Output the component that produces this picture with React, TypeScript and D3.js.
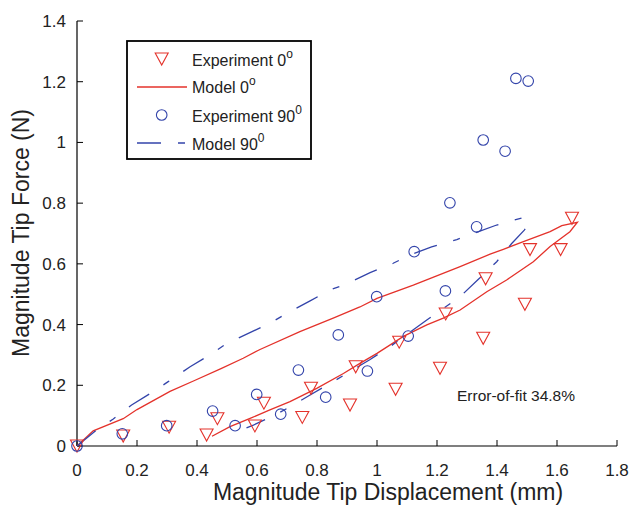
import React from "react";
import * as d3 from "d3";

const exp0: [number, number][] = [
  [0, 0], [0.154, 0.033], [0.307, 0.062], [0.432, 0.036], [0.468, 0.09], [0.593, 0.066],
  [0.623, 0.141], [0.751, 0.094], [0.78, 0.19], [0.91, 0.135], [0.929, 0.261], [1.062, 0.187],
  [1.074, 0.342], [1.21, 0.256], [1.229, 0.435], [1.354, 0.355], [1.362, 0.551], [1.493, 0.467],
  [1.51, 0.647], [1.612, 0.647], [1.65, 0.75],
];

const exp90: [number, number][] = [
  [0, 0], [0.151, 0.04], [0.299, 0.067], [0.452, 0.115], [0.527, 0.067], [0.599, 0.17],
  [0.679, 0.105], [0.738, 0.25], [0.829, 0.161], [0.871, 0.366], [0.968, 0.247], [0.999, 0.492],
  [1.104, 0.362], [1.124, 0.64], [1.228, 0.511], [1.243, 0.801], [1.332, 0.722], [1.354, 1.008],
  [1.427, 0.971], [1.463, 1.211], [1.504, 1.202],
];

const model0: [number, number][] = [
  [0, 0], [0.054, 0.05], [0.154, 0.09], [0.2, 0.12], [0.31, 0.18], [0.39, 0.215], [0.48, 0.255],
  [0.554, 0.289], [0.61, 0.318], [0.743, 0.377], [0.854, 0.421], [0.943, 0.458], [1.0, 0.486],
  [1.121, 0.53], [1.277, 0.591], [1.377, 0.632], [1.421, 0.648], [1.488, 0.673], [1.577, 0.706],
  [1.616, 0.726], [1.668, 0.737], [1.643, 0.706], [1.577, 0.657], [1.521, 0.607], [1.432, 0.547],
  [1.366, 0.508], [1.277, 0.448], [1.221, 0.421], [1.166, 0.399], [1.088, 0.361], [1.0, 0.305],
  [0.943, 0.272], [0.888, 0.239], [0.799, 0.19], [0.71, 0.146], [0.643, 0.119], [0.577, 0.091],
  [0.51, 0.064], [0.45, 0.032],
];

const model90: [number, number][] = [
  [0, 0], [0.066, 0.053], [0.121, 0.089], [0.182, 0.135], [0.254, 0.179], [0.304, 0.212],
  [0.377, 0.261], [0.443, 0.3], [0.499, 0.338], [0.571, 0.371], [0.643, 0.404], [0.699, 0.437],
  [0.777, 0.478], [0.843, 0.514], [0.899, 0.534], [0.977, 0.571], [1.054, 0.602], [1.11, 0.629],
  [1.182, 0.656], [1.266, 0.68], [1.399, 0.728], [1.485, 0.752], [1.508, 0.735], [1.491, 0.711],
  [1.449, 0.667], [1.399, 0.607], [1.338, 0.549], [1.277, 0.492], [1.166, 0.415], [1.043, 0.327],
  [0.977, 0.285], [0.854, 0.212], [0.777, 0.168], [0.721, 0.135], [0.66, 0.102], [0.588, 0.069],
  [0.565, 0.06],
];

const xTicks = [0, 0.2, 0.4, 0.6, 0.8, 1, 1.2, 1.4, 1.6, 1.8];
const yTicks = [0, 0.2, 0.4, 0.6, 0.8, 1, 1.2, 1.4];

const RED = "#e4322b";
const BLUE = "#3344aa";
const FONT = "'Liberation Sans', Arial, Helvetica, sans-serif";

export default function App() {
  const x = d3.scaleLinear().domain([0, 1.8]).range([77, 617]);
  const y = d3.scaleLinear().domain([0, 1.4]).range([446, 21]);
  const line = d3.line<[number, number]>().x((d) => x(d[0])).y((d) => y(d[1]));
  const fmt = (v: number) => (v === 0 ? "0" : String(v));
  const tri = (cx: number, cy: number, s = 6.5, h = 6) =>
    `M${cx - s},${cy - h}L${cx + s},${cy - h}L${cx},${cy + h}Z`;

  return (
    <svg
      width={630}
      height={507}
      style={{ position: "absolute", left: 0, top: 0, background: "#fff" }}
      fontFamily={FONT}
    >
      <rect width={630} height={507} fill="#fff" />
      {/* axes */}
      <line x1={77} x2={617} y1={446} y2={446} stroke="#000" strokeWidth={1.2} />
      <line x1={77} x2={77} y1={21} y2={446} stroke="#000" strokeWidth={1.2} />
      {xTicks.map((t) => (
        <g key={"x" + t}>
          <line x1={x(t)} x2={x(t)} y1={446} y2={440} stroke="#000" strokeWidth={1} />
          <text x={x(t)} y={476} fontSize={17} textAnchor="middle" fill="#222">
            {fmt(t)}
          </text>
        </g>
      ))}
      {yTicks.map((t) => (
        <g key={"y" + t}>
          <line x1={77} x2={83} y1={y(t)} y2={y(t)} stroke="#000" strokeWidth={1} />
          <text x={66} y={y(t) + 6} fontSize={17} textAnchor="end" fill="#222">
            {fmt(t)}
          </text>
        </g>
      ))}
      <text x={388} y={500} fontSize={23} textAnchor="middle" fill="#222">
        Magnitude Tip Displacement (mm)
      </text>
      <text
        transform="translate(29,233) rotate(-90)"
        fontSize={23}
        textAnchor="middle"
        fill="#222"
      >
        Magnitude Tip Force (N)
      </text>

      {/* model lines */}
      <path d={line(model0) || ""} fill="none" stroke={RED} strokeWidth={1.3} />
      <path
        d={line(model90) || ""}
        fill="none"
        stroke={BLUE}
        strokeWidth={1.3}
        strokeDasharray="24,17,7,17"
      />

      {/* markers */}
      {exp0.map((d, i) => (
        <path key={"t" + i} d={tri(x(d[0]), y(d[1]))} fill="none" stroke={RED} strokeWidth={1.1} />
      ))}
      {exp90.map((d, i) => (
        <circle key={"c" + i} cx={x(d[0])} cy={y(d[1])} r={5.3} fill="none" stroke={BLUE} strokeWidth={1.1} />
      ))}

      <text x={516} y={401} fontSize={15.5} textAnchor="middle" fill="#222">
        Error-of-fit 34.8%
      </text>

      {/* legend */}
      <rect x={127} y={41} width={184} height={118} fill="#fff" stroke="#000" strokeWidth={1.8} />
      <path d={tri(161.7, 59)} fill="none" stroke={RED} strokeWidth={1.1} />
      <line x1={137} x2={187} y1={87} y2={87} stroke={RED} strokeWidth={1.3} />
      <circle cx={161.7} cy={115} r={5.3} fill="none" stroke={BLUE} strokeWidth={1.1} />
      <line x1={137} x2={187} y1={143} y2={143} stroke={BLUE} strokeWidth={1.3} strokeDasharray="24,17,7,17" />
      {[
        ["Experiment 0", "o", 66],
        ["Model 0", "o", 93],
        ["Experiment 90", "0", 122],
        ["Model 90", "0", 150],
      ].map(([t, s, yy]) => (
        <text key={t as string} x={192} y={yy as number} fontSize={16} fill="#222">
          {t}
          <tspan fontSize={12} dy={-8}>
            {s}
          </tspan>
        </text>
      ))}
    </svg>
  );
}
